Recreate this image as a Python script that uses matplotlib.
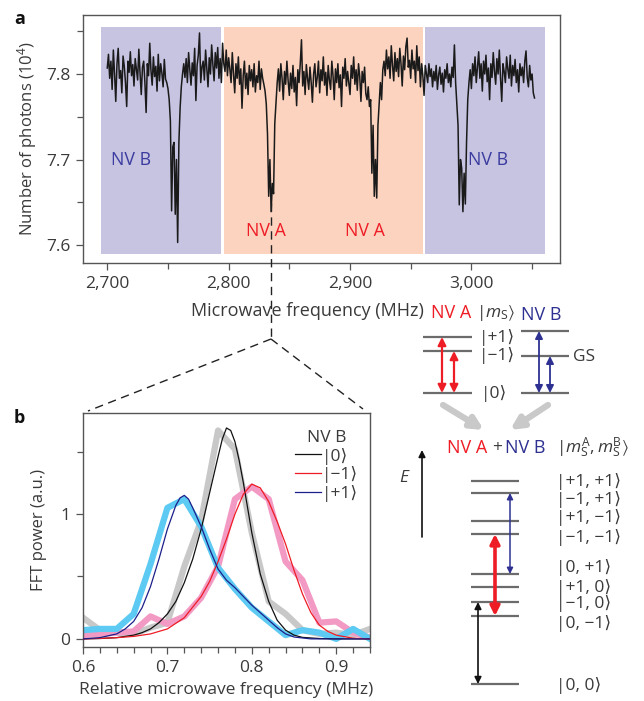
import numpy as np
import matplotlib
matplotlib.use("Agg")
import matplotlib.pyplot as plt
from matplotlib.ticker import FixedLocator, FuncFormatter

plt.rcParams['font.family'] = ['Open Sans', 'DejaVu Sans']
plt.rcParams['mathtext.fontset'] = 'custom'
plt.rcParams['mathtext.rm'] = 'Open Sans'
plt.rcParams['mathtext.it'] = 'Open Sans:italic'
plt.rcParams['mathtext.bf'] = 'Open Sans:bold'
plt.rcParams['mathtext.fallback'] = 'stixsans'

# ---------------- Panel a data ----------------
freq_start = 2700
photons = [
    7.807, 7.823, 7.795, 7.815, 7.782, 7.828, 7.800, 7.768, 7.812, 7.830,
    7.795, 7.804, 7.778, 7.821, 7.809, 7.790, 7.762, 7.815, 7.802, 7.826,
    7.798, 7.811, 7.786, 7.818, 7.805, 7.793, 7.829, 7.801, 7.776, 7.808,
    7.815, 7.790, 7.755, 7.812, 7.798, 7.836, 7.804, 7.787, 7.820, 7.797,
    7.809, 7.780, 7.823, 7.792, 7.812, 7.801, 7.785, 7.817, 7.794, 7.790,
    7.783, 7.770, 7.745, 7.640, 7.715, 7.720, 7.636, 7.700, 7.603, 7.720,
    7.760, 7.785, 7.800, 7.812, 7.796, 7.818, 7.790, 7.825, 7.805, 7.787,
    7.813, 7.798, 7.830, 7.769, 7.810, 7.822, 7.848, 7.790, 7.808, 7.815,
    7.793, 7.828, 7.806, 7.785, 7.819, 7.800, 7.834, 7.811, 7.792, 7.825,
    7.807, 7.831, 7.795, 7.818, 7.790, 7.836, 7.812, 7.803, 7.828, 7.798,
    7.819, 7.806, 7.790, 7.825, 7.800, 7.778, 7.812, 7.795, 7.820, 7.788,
    7.806, 7.760, 7.798, 7.815, 7.783, 7.801, 7.776, 7.810, 7.792, 7.805,
    7.785, 7.812, 7.779, 7.798, 7.790, 7.815, 7.782, 7.806, 7.795, 7.788,
    7.780, 7.765, 7.730, 7.657, 7.700, 7.639, 7.672, 7.660, 7.742, 7.765,
    7.790, 7.806, 7.780, 7.812, 7.795, 7.770, 7.803, 7.788, 7.815, 7.792,
    7.775, 7.801, 7.783, 7.810, 7.779, 7.796, 7.763, 7.805, 7.790, 7.812,
    7.840, 7.786, 7.803, 7.776, 7.811, 7.795, 7.782, 7.808, 7.790, 7.767,
    7.800, 7.812, 7.785, 7.796, 7.815, 7.778, 7.805, 7.792, 7.820, 7.787,
    7.802, 7.775, 7.810, 7.793, 7.782, 7.815, 7.798, 7.770, 7.806, 7.790,
    7.812, 7.784, 7.799, 7.762, 7.808, 7.795, 7.818, 7.786, 7.803, 7.790,
    7.776, 7.810, 7.795, 7.820, 7.788, 7.805, 7.781, 7.812, 7.797, 7.768,
    7.803, 7.790, 7.808, 7.777, 7.770, 7.785, 7.762, 7.770, 7.684, 7.740,
    7.657, 7.700, 7.655, 7.740, 7.765, 7.790, 7.770, 7.805, 7.815, 7.798,
    7.828, 7.806, 7.820, 7.795, 7.833, 7.810, 7.792, 7.825, 7.803, 7.818,
    7.797, 7.830, 7.812, 7.786, 7.821, 7.805, 7.832, 7.842, 7.808, 7.816,
    7.795, 7.828, 7.806, 7.815, 7.790, 7.833, 7.804, 7.820, 7.785, 7.812,
    7.798, 7.775, 7.810, 7.800, 7.790, 7.812, 7.797, 7.806, 7.785, 7.803,
    7.792, 7.810, 7.782, 7.799, 7.808, 7.788, 7.801, 7.779, 7.805, 7.795,
    7.812, 7.790, 7.800, 7.785, 7.808, 7.796, 7.834, 7.790, 7.765, 7.740,
    7.647, 7.700, 7.690, 7.639, 7.684, 7.648, 7.720, 7.770, 7.790, 7.805,
    7.783, 7.812, 7.798, 7.820, 7.790, 7.808, 7.826, 7.795, 7.812, 7.780,
    7.815, 7.800, 7.822, 7.791, 7.807, 7.770, 7.812, 7.796, 7.825, 7.803,
    7.788, 7.818, 7.800, 7.828, 7.795, 7.768, 7.812, 7.803, 7.790, 7.820,
    7.806, 7.795, 7.822, 7.786, 7.810, 7.798, 7.817, 7.790, 7.805, 7.779,
    7.812, 7.798, 7.808, 7.790, 7.815, 7.827, 7.796, 7.785, 7.810, 7.793,
    7.800, 7.778, 7.772,
]
freq = freq_start + np.arange(len(photons))

regions = [(2695, 2794, 'NV B'), (2796.5, 2960, 'NV A'), (2962, 3061, 'NV B')]
region_labels = [(2720, 7.700, 'NV B'), (2831, 7.616, 'NV A'), (2912, 7.616, 'NV A'), (3014, 7.700, 'NV B')]

# ---------------- Panel b data ----------------
rel_freq = [0.60, 0.62, 0.64, 0.66, 0.68, 0.70, 0.72, 0.74, 0.76, 0.78,
            0.80, 0.82, 0.84, 0.86, 0.88, 0.90, 0.92, 0.94]
fft_0 = [0.17, 0.07, 0.05, 0.04, 0.09, 0.13, 0.58, 0.95, 1.67, 1.52,
         0.85, 0.30, 0.20, 0.07, 0.04, 0.05, 0.03, 0.08]
fft_m1 = [0.03, 0.04, 0.05, 0.06, 0.18, 0.12, 0.18, 0.33, 0.58, 1.12,
          1.22, 1.12, 0.62, 0.47, 0.13, 0.14, 0.05, 0.01]
fft_p1 = [0.07, 0.08, 0.08, 0.20, 0.60, 1.05, 1.12, 0.90, 0.57, 0.40,
          0.25, 0.14, 0.03, 0.07, 0.05, 0.00, 0.08, 0.00]

fit_x_0 = [0.60, 0.62, 0.64, 0.66, 0.67, 0.68, 0.69, 0.70, 0.71, 0.72, 0.73, 0.74, 0.75,
           0.76, 0.765, 0.77, 0.775, 0.78, 0.785, 0.79, 0.80, 0.81, 0.82, 0.83, 0.84,
           0.85, 0.86, 0.88, 0.90, 0.94]
fit_0 = [0.0, 0.003, 0.01, 0.03, 0.05, 0.08, 0.13, 0.20, 0.30, 0.45, 0.64, 0.88, 1.17,
         1.46, 1.60, 1.69, 1.67, 1.58, 1.43, 1.25, 0.85, 0.52, 0.30, 0.15, 0.07,
         0.03, 0.012, 0.003, 0.0, 0.0]
fit_x_m1 = [0.60, 0.62, 0.64, 0.66, 0.68, 0.70, 0.72, 0.74, 0.75, 0.76, 0.77, 0.78,
            0.79, 0.80, 0.81, 0.82, 0.83, 0.84, 0.85, 0.86, 0.87, 0.88, 0.89, 0.90,
            0.92, 0.94]
fit_m1 = [0.0, 0.004, 0.01, 0.02, 0.04, 0.08, 0.17, 0.34, 0.46, 0.62, 0.80, 1.00,
          1.16, 1.24, 1.21, 1.10, 0.94, 0.76, 0.55, 0.36, 0.21, 0.11, 0.06, 0.03,
          0.005, 0.0]
fit_x_p1 = [0.60, 0.62, 0.64, 0.65, 0.66, 0.67, 0.68, 0.69, 0.70, 0.71, 0.715, 0.72,
            0.725, 0.73, 0.74, 0.75, 0.76, 0.77, 0.78, 0.79, 0.80, 0.81, 0.82, 0.83,
            0.84, 0.85, 0.87, 0.94]
fit_p1 = [0.0, 0.01, 0.04, 0.08, 0.14, 0.25, 0.42, 0.64, 0.88, 1.07, 1.13, 1.15,
          1.12, 1.05, 0.90, 0.72, 0.56, 0.47, 0.41, 0.34, 0.27, 0.21, 0.15, 0.09,
          0.04, 0.015, 0.0, 0.0]

legend_labels = ['|0⟩', '|−1⟩', '|+1⟩']

# ---------------- Figure ----------------
fig = plt.figure(figsize=(6.44, 7.01), dpi=100)
W, H = 644, 701

def rect(l, t, r, b):
    return [l / W, 1 - b / H, (r - l) / W, (b - t) / H]

tick_col = '#3a3a3a'
spine_col = '#555555'
NVA = '#ee1c25'
NVB = '#2e3192'
TS = 12.5

# Panel a
axa = fig.add_axes(rect(83, 15, 560, 263))
for x0, x1, lab in regions:
    axa.axvspan(x0, x1, ymin=(7.5895 - 7.579) / 0.29, ymax=(7.855 - 7.579) / 0.29,
                color='#c6c4e1' if lab == 'NV B' else '#fcd3bf', lw=0, zorder=0)
axa.plot(freq, photons, color='#1a1a1a', lw=1.1, zorder=2)
for x, y, lab in region_labels:
    axa.text(x, y, lab, color='#3b3ba0' if lab == 'NV B' else NVA, fontsize=12.8,
             ha='center', va='center')
axa.set_xlim(2680, 3073)
axa.set_ylim(7.579, 7.869)
axa.xaxis.set_major_locator(FixedLocator([2700, 2800, 2900, 3000]))
axa.xaxis.set_minor_locator(FixedLocator([2750, 2850, 2950, 3050]))
axa.xaxis.set_major_formatter(FuncFormatter(lambda v, p: f'{int(v):,}'))
axa.yaxis.set_major_locator(FixedLocator([7.6, 7.7, 7.8]))
axa.yaxis.set_minor_locator(FixedLocator([7.65, 7.75, 7.85]))
axa.set_ylabel('Number of photons (10$^4$)', fontsize=12, color=tick_col, labelpad=5)

# Panel b
axb = fig.add_axes(rect(83, 413, 370, 647))
axb.plot(rel_freq, fft_0, color='#c8c8c8', lw=4.5, zorder=2)
axb.plot(rel_freq, fft_m1, color='#f29ac4', lw=4.5, zorder=2)
axb.plot(rel_freq, fft_p1, color='#5ccaf2', lw=4.5, zorder=2)
l0, = axb.plot(fit_x_0, fit_0, color='#111111', lw=0.9, zorder=3)
l1, = axb.plot(fit_x_m1, fit_m1, color='#ee1c25', lw=0.9, zorder=3)
l2, = axb.plot(fit_x_p1, fit_p1, color='#1c1f8a', lw=0.9, zorder=3)
leg = axb.legend([l0, l1, l2], legend_labels, title='NV B', loc='upper right',
                 bbox_to_anchor=(1.0, 0.98), frameon=False, fontsize=12.5,
                 title_fontsize=12.5, handlelength=1.5, handletextpad=0.05,
                 labelspacing=0.1, borderpad=0.2)
for t in leg.get_texts():
    t.set_color(tick_col)
leg.get_title().set_color(tick_col)
axb.set_xlim(0.6, 0.94)
axb.set_ylim(-0.065, 1.81)
axb.xaxis.set_major_locator(FixedLocator([0.6, 0.7, 0.8, 0.9]))
axb.xaxis.set_minor_locator(FixedLocator([0.62, 0.64, 0.66, 0.68, 0.72, 0.74, 0.76, 0.78,
                                          0.82, 0.84, 0.86, 0.88, 0.92, 0.94]))
axb.yaxis.set_major_locator(FixedLocator([0, 1]))
axb.yaxis.set_minor_locator(FixedLocator([0.5, 1.5]))
axb.set_ylabel('FFT power (a.u.)', fontsize=12, color=tick_col, labelpad=10)
axb.set_xlabel('Relative microwave frequency (MHz)', fontsize=12.5, color=tick_col, labelpad=5)

for ax in (axa, axb):
    for s in ax.spines.values():
        s.set_color(spine_col)
        s.set_linewidth(1.0)
    ax.tick_params(which='both', direction='out', color=spine_col, labelcolor=tick_col,
                   labelsize=TS, width=0.9, pad=4)
    ax.tick_params(which='major', length=5)
    ax.tick_params(which='minor', length=4)

# ---------------- Overlay (labels, dashed zoom lines, level diagrams) ----------------
ov = fig.add_axes([0, 0, 1, 1], facecolor='none')
ov.set_xlim(0, W)
ov.set_ylim(H, 0)
ov.axis('off')

ov.text(14, 19, 'a', fontsize=13, fontweight='bold', ha='left', va='center', color='#111')
ov.text(14, 418, 'b', fontsize=13, fontweight='bold', ha='left', va='center', color='#111')
ov.text(307, 311, 'Microwave frequency (MHz)', fontsize=13, color=tick_col,
        ha='center', va='center')

dash = dict(color='#222222', lw=1.0, ls=(0, (6, 4)))
ov.plot([271, 271], [203, 339], **dash)
ov.plot([271, 88], [339, 411], **dash)
ov.plot([271, 363], [339, 409], **dash)

lvl = dict(color='#6b6b6b', lw=1.6, solid_capstyle='butt')
fs = 12.5
nvfs = 13

def darrow(x, y1, y2, color, lw, ms):
    ov.annotate('', xy=(x, y1), xytext=(x, y2),
                arrowprops=dict(arrowstyle='<|-|>', color=color, lw=lw,
                                mutation_scale=ms, shrinkA=0, shrinkB=0))

# top diagram
ov.text(451, 313, 'NV A', color=NVA, fontsize=nvfs, ha='center', va='center')
ov.text(496, 313, '$|m_\\mathrm{S}\\rangle$', color=tick_col, fontsize=fs, ha='center', va='center')
ov.text(541, 315, 'NV B', color=NVB, fontsize=nvfs, ha='center', va='center')
for y in (337, 351, 393):
    ov.plot([423, 472], [y, y], **lvl)
for y in (331, 356, 393):
    ov.plot([521, 569], [y, y], **lvl)
ov.text(479, 337, '|+1⟩', fontsize=fs, color=tick_col, ha='left', va='center')
ov.text(479, 356, '|−1⟩', fontsize=fs, color=tick_col, ha='left', va='center')
ov.text(481, 393, '|0⟩', fontsize=fs, color=tick_col, ha='left', va='center')
ov.text(573, 357, 'GS', fontsize=fs, color=tick_col, ha='left', va='center')
darrow(442, 337, 393, NVA, 1.6, 12)
darrow(454, 351, 393, NVA, 1.6, 12)
darrow(539, 331, 393, NVB, 1.3, 11)
darrow(550, 356, 393, NVB, 1.3, 11)
ov.annotate('', xy=(484, 430), xytext=(443, 405),
            arrowprops=dict(arrowstyle='-|>', color='#c9c9c9', lw=4.5,
                            mutation_scale=18, shrinkA=0, shrinkB=0))
ov.annotate('', xy=(510, 430), xytext=(548, 405),
            arrowprops=dict(arrowstyle='-|>', color='#c9c9c9', lw=4.5,
                            mutation_scale=18, shrinkA=0, shrinkB=0))

# bottom diagram
ov.text(467, 448, 'NV A', color=NVA, fontsize=nvfs, ha='center', va='center')
ov.text(497, 448, '+', color=tick_col, fontsize=fs, ha='center', va='center')
ov.text(525, 448, 'NV B', color=NVB, fontsize=nvfs, ha='center', va='center')
ov.text(556, 448, '$|m_\\mathrm{S}^{\\mathrm{A}}, m_\\mathrm{S}^{\\mathrm{B}}\\rangle$',
        color=tick_col, fontsize=fs, ha='left', va='center')
ov.text(405, 478, '$E$', color=tick_col, fontsize=fs, ha='center', va='center')
ov.annotate('', xy=(422, 450), xytext=(422, 537),
            arrowprops=dict(arrowstyle='-|>', color='#111', lw=1.2,
                            mutation_scale=10, shrinkA=0, shrinkB=0))
for y in (481, 493, 521, 534, 574, 587, 602, 616, 684):
    ov.plot([471, 519], [y, y], **lvl)
state_labels = [(481, '|+1, +1⟩'), (499, '|−1, +1⟩'), (518, '|+1, −1⟩'),
                (538, '|−1, −1⟩'), (568, '|0, +1⟩'), (587, '|+1, 0⟩'),
                (604, '|−1, 0⟩'), (623, '|0, −1⟩'), (685, '|0, 0⟩')]
for y, s in state_labels:
    ov.text(556, y, s, fontsize=fs, color=tick_col, ha='left', va='center')
darrow(510, 493, 574, NVB, 1.1, 9)
darrow(495, 534, 616, NVA, 2.6, 14)
darrow(478, 602, 684, '#111111', 1.2, 10)

fig.savefig('out.png', dpi=100)
